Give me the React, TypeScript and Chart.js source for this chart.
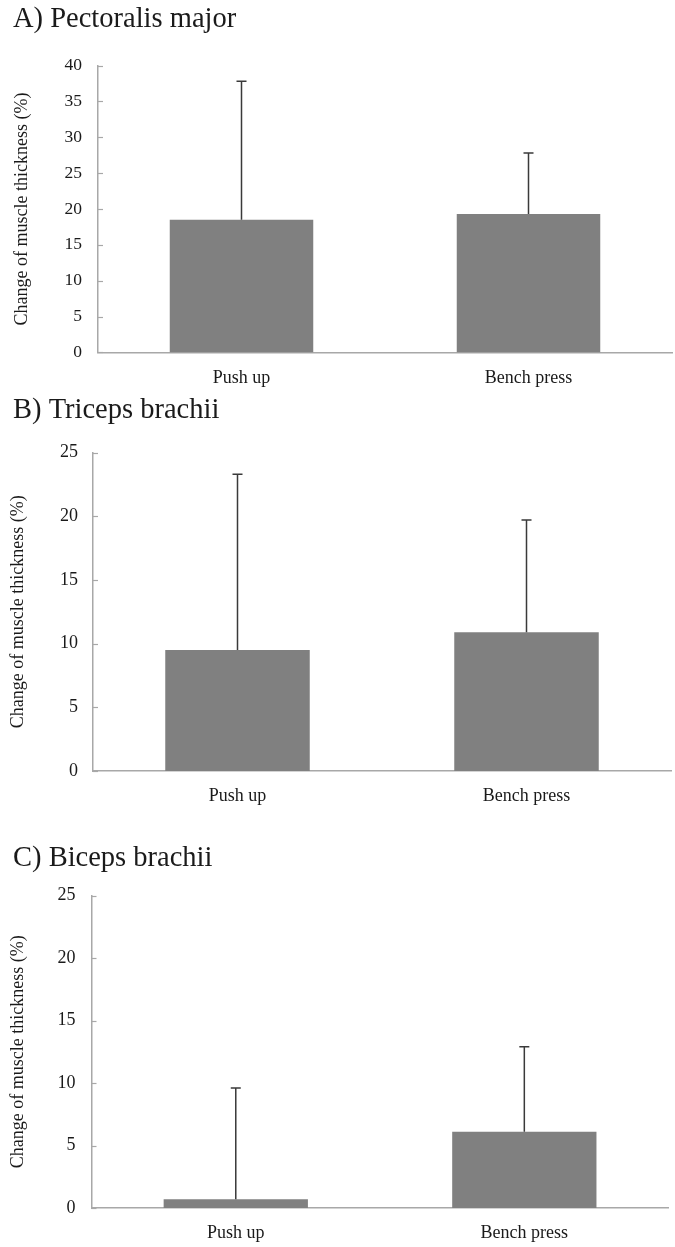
import React, { useEffect, useRef } from "react";
import { Chart, registerables } from "chart.js";

Chart.register(...registerables);

// ---------- data ----------
const categories = ["Push up", "Bench press"];
const pectoralisMean = [18.5, 19.3];
const pectoralisSD = [19.3, 8.5];
const tricepsMean = [9.5, 10.9];
const tricepsSD = [13.8, 8.8];
const bicepsMean = [0.7, 6.1];
const bicepsSD = [8.9, 6.8];
const panelTitles = ["A) Pectoralis major", "B) Triceps brachii", "C) Biceps brachii"];
const yAxisLabel = "Change of muscle thickness (%)";
const yMaxA = 40;
const yMaxBC = 25;
const yStep = 5;

const SERIF = "'Liberation Serif', 'Times New Roman', serif";
const AXIS_COLOR = "#a8a8a8";
const BAR_COLOR = "#808080";
const ERR_COLOR = "#3a3a3a";
const TEXT_COLOR = "#1a1a1a";

const errorBarPlugin = {
  id: "errorBarsCustom",
  afterDatasetsDraw(chart: any) {
    const ctx = chart.ctx;
    const yScale = chart.scales.y;
    chart.data.datasets.forEach((ds: any, i: number) => {
      const meta = chart.getDatasetMeta(i);
      meta.data.forEach((bar: any, j: number) => {
        const v = ds.data[j];
        const e = ds.errors[j];
        const yBase = yScale.getPixelForValue(v);
        const yTop = yScale.getPixelForValue(v + e);
        ctx.save();
        ctx.strokeStyle = ERR_COLOR;
        ctx.lineWidth = 1.5;
        ctx.beginPath();
        ctx.moveTo(bar.x, yBase);
        ctx.lineTo(bar.x, yTop);
        ctx.moveTo(bar.x - 5, yTop);
        ctx.lineTo(bar.x + 5, yTop);
        ctx.stroke();
        ctx.restore();
      });
    });
  },
};

const innerTickPlugin = {
  id: "innerTicks",
  afterDraw(chart: any) {
    const ctx = chart.ctx;
    const yScale = chart.scales.y;
    const left = chart.chartArea.left;
    ctx.save();
    ctx.strokeStyle = AXIS_COLOR;
    ctx.lineWidth = 1.2;
    yScale.ticks.forEach((t: any) => {
      const py = Math.round(yScale.getPixelForValue(t.value)) + 0.5;
      ctx.beginPath();
      ctx.moveTo(left, py);
      ctx.lineTo(left + 5, py);
      ctx.stroke();
    });
    ctx.restore();
  },
};

type PanelProps = {
  top: number;
  height: number;
  title: string;
  means: number[];
  sds: number[];
  yMax: number;
  titlePadTop: number;
  titlePadBottom: number;
  yWidth: number;
  padRight: number;
  padBottom: number;
  xTickPad: number;
  yTickPad: number;
  yTickSize: number;
  yTitlePad: number;
};

function Panel(p: PanelProps) {
  const ref = useRef<HTMLCanvasElement>(null);
  useEffect(() => {
    if (!ref.current) return;
    const chart = new Chart(ref.current, {
      type: "bar",
      data: {
        labels: categories,
        datasets: [
          {
            data: p.means,
            errors: p.sds,
            backgroundColor: BAR_COLOR,
            borderWidth: 0,
            barPercentage: 0.5,
            categoryPercentage: 1,
          } as any,
        ],
      },
      options: {
        animation: false,
        responsive: true,
        maintainAspectRatio: false,
        layout: { padding: { left: 13, right: p.padRight, top: 0, bottom: p.padBottom } },
        plugins: {
          legend: { display: false },
          tooltip: { enabled: false },
          title: {
            display: true,
            text: p.title,
            align: "start",
            color: TEXT_COLOR,
            font: { family: SERIF, size: 28.5, weight: "normal", lineHeight: 1.2 },
            padding: { top: p.titlePadTop, bottom: p.titlePadBottom },
          },
        },
        scales: {
          x: {
            grid: { display: false, drawTicks: false },
            border: { display: true, color: AXIS_COLOR, width: 1.5 },
            ticks: {
              color: TEXT_COLOR,
              padding: p.xTickPad,
              font: { family: SERIF, size: 18 },
            },
          },
          y: {
            min: 0,
            max: p.yMax,
            grid: { display: false, drawTicks: false },
            border: { display: true, color: AXIS_COLOR, width: 1.5 },
            ticks: {
              stepSize: yStep,
              color: TEXT_COLOR,
              padding: p.yTickPad,
              font: { family: SERIF, size: p.yTickSize },
            },
            title: {
              display: true,
              text: yAxisLabel,
              color: TEXT_COLOR,
              font: { family: SERIF, size: 18, lineHeight: 0.5 },
              padding: { top: p.yTitlePad, bottom: 0 },
            },
            afterFit: (scale: any) => {
              scale.width = p.yWidth;
            },
          },
        },
      },
      plugins: [errorBarPlugin, innerTickPlugin],
    } as any);
    let alive = true;
    if ((document as any).fonts && (document as any).fonts.load) {
      Promise.all([
        (document as any).fonts.load("18px 'Liberation Serif'"),
        (document as any).fonts.load("28px 'Liberation Serif'"),
      ]).then(() => {
        if (alive) chart.update();
      });
    }
    return () => {
      alive = false;
      chart.destroy();
    };
  }, []);
  return (
    <div style={{ position: "absolute", left: 0, top: p.top, width: 675, height: p.height }}>
      <canvas ref={ref} />
    </div>
  );
}

export default function App() {
  return (
    <div
      style={{
        position: "absolute",
        left: 0,
        top: 0,
        width: 675,
        height: 1247,
        background: "#fff",
        overflow: "hidden",
      }}
    >
      <Panel
        top={0}
        height={405}
        title={panelTitles[0]}
        means={pectoralisMean}
        sds={pectoralisSD}
        yMax={yMaxA}
        titlePadTop={2.9}
        titlePadBottom={28.5}
        yWidth={85}
        padRight={3}
        padBottom={0.6}
        xTickPad={15.2}
        yTickPad={16}
        yTickSize={17.5}
        yTitlePad={4.5}
      />
      <Panel
        top={390}
        height={445}
        title={panelTitles[1]}
        means={tricepsMean}
        sds={tricepsSD}
        yMax={yMaxBC}
        titlePadTop={3.9}
        titlePadBottom={24.5}
        yWidth={80}
        padRight={4}
        padBottom={13}
        xTickPad={14.7}
        yTickPad={15}
        yTickSize={18}
        yTitlePad={0.8}
      />
      <Panel
        top={835}
        height={424}
        title={panelTitles[2]}
        means={bicepsMean}
        sds={bicepsSD}
        yMax={yMaxBC}
        titlePadTop={6.9}
        titlePadBottom={19.5}
        yWidth={78.5}
        padRight={6.4}
        padBottom={0}
        xTickPad={14.7}
        yTickPad={16}
        yTickSize={18}
        yTitlePad={0.8}
      />
    </div>
  );
}
